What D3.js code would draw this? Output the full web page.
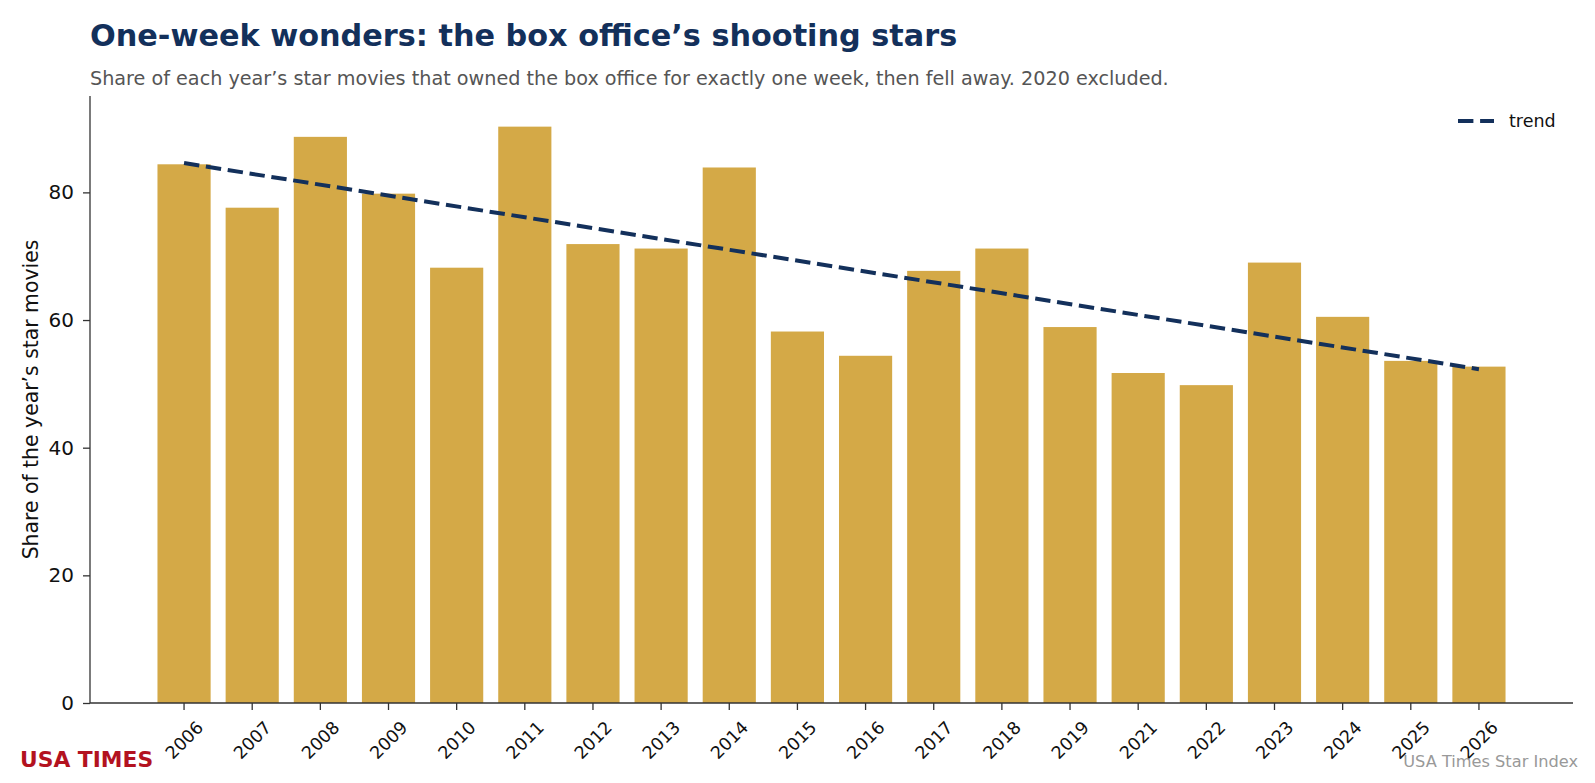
<!DOCTYPE html>
<html>
<head>
<meta charset="utf-8">
<script src="https://cdn.jsdelivr.net/npm/d3@7"></script>
<style>
  body { margin: 0; background: #fff; }
  svg { display: block; font-family: "DejaVu Sans", sans-serif; }
</style>
</head>
<body>
<svg id="chart" width="1595" height="783"></svg>
<script>
// years shown (2020 is left out of the source data)
const years = ["2006","2007","2008","2009","2010","2011","2012","2013","2014","2015",
               "2016","2017","2018","2019","2021","2022","2023","2024","2025","2026"];
// share of star movies that were one-week wonders
const shares = [84.4, 77.6, 88.7, 79.8, 68.2, 90.3, 71.9, 71.2, 83.9, 58.2,
                54.4, 67.7, 71.2, 58.9, 51.7, 49.8, 69.0, 60.5, 53.6, 52.7];
// trend line end points (first and last year)
const trendEnds = [84.6, 52.3];
const yTicks = [0, 20, 40, 60, 80];

const svg = d3.select('#chart');
const navy = '#13305b';
const gold = '#d4a947';

// plot area
const plot = { left: 90, right: 1573, top: 96, bottom: 703 };

const x = d3.scaleLinear().domain([-1.38, years.length - 1 + 1.38]).range([plot.left, plot.right]);
const y = d3.scaleLinear().domain([0, 95.1]).range([plot.bottom, plot.top]);
const barW = x(0.78) - x(0);

// title + subtitle
svg.append('text')
  .attr('x', 90).attr('y', 46)
  .attr('font-size', 30.3).attr('font-weight', 'bold').attr('fill', navy)
  .text('One-week wonders: the box office\u2019s shooting stars');
svg.append('text')
  .attr('x', 90).attr('y', 85)
  .attr('font-size', 19.2).attr('fill', '#555')
  .text('Share of each year\u2019s star movies that owned the box office for exactly one week, then fell away. 2020 excluded.');

// bars
svg.append('g')
  .selectAll('rect')
  .data(shares)
  .enter().append('rect')
    .attr('x', (d, i) => x(i) - barW / 2)
    .attr('y', d => y(d))
    .attr('width', barW)
    .attr('height', d => y(0) - y(d))
    .attr('fill', gold);

// trend
svg.append('line')
  .attr('x1', x(0)).attr('y1', y(trendEnds[0]))
  .attr('x2', x(years.length - 1)).attr('y2', y(trendEnds[1]))
  .attr('stroke', navy).attr('stroke-width', 4)
  .attr('stroke-dasharray', '15.4,6.7');

// y axis
const yAxis = svg.append('g')
  .attr('transform', `translate(${plot.left},0)`)
  .call(d3.axisLeft(y).tickValues(yTicks).tickSize(7).tickSizeOuter(0).tickPadding(9));
yAxis.select('.domain').attr('d', `M0,${plot.top}V${plot.bottom}`);
yAxis.selectAll('text').attr('font-size', 20).attr('fill', '#111').attr('font-family', 'DejaVu Sans');

// x axis: bottom spine + ticks at each bar
const xAxis = svg.append('g').attr('transform', `translate(0,${plot.bottom})`);
xAxis.append('line')
  .attr('x1', plot.left).attr('x2', plot.right)
  .attr('stroke', '#333').attr('stroke-width', 1.3);
const xt = xAxis.selectAll('g.tick')
  .data(years)
  .enter().append('g')
    .attr('class', 'tick')
    .attr('transform', (d, i) => `translate(${x(i)},0)`);
xt.append('line').attr('y2', 7);
xt.append('text')
  .attr('transform', 'translate(0,37) rotate(-45)')
  .attr('text-anchor', 'middle')
  .attr('dy', '0.36em')
  .attr('font-size', 17.5).attr('fill', '#111')
  .text(d => d);

svg.selectAll('.domain, .tick line').attr('stroke', '#333').attr('stroke-width', 1.3);

// y label
svg.append('text')
  .attr('transform', `translate(38,${(plot.top + plot.bottom) / 2}) rotate(-90)`)
  .attr('text-anchor', 'middle')
  .attr('font-size', 20.4).attr('fill', '#111')
  .text('Share of the year\u2019s star movies');

// legend
const legend = svg.append('g');
legend.append('line')
  .attr('x1', 1458).attr('x2', 1494).attr('y1', 121).attr('y2', 121)
  .attr('stroke', navy).attr('stroke-width', 4)
  .attr('stroke-dasharray', '15.4,6.7');
legend.append('text')
  .attr('x', 1509).attr('y', 127)
  .attr('font-size', 17.5).attr('fill', '#111')
  .text('trend');

// footer
svg.append('text')
  .attr('x', 20).attr('y', 767)
  .attr('font-size', 21.8).attr('font-weight', 'bold').attr('fill', '#b3121f')
  .text('USA TIMES');
svg.append('text')
  .attr('x', 1578).attr('y', 767)
  .attr('text-anchor', 'end')
  .attr('font-size', 16.2).attr('fill', '#999')
  .text('USA Times Star Index');
</script>
</body>
</html>
